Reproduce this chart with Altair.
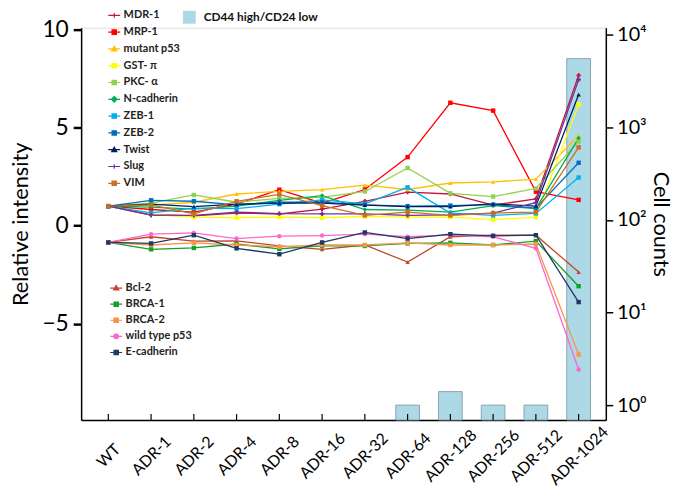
import altair as alt
import pandas as pd

categories = ["WT", "ADR-1", "ADR-2", "ADR-4", "ADR-8", "ADR-16", "ADR-32",
              "ADR-64", "ADR-128", "ADR-256", "ADR-512", "ADR-1024"]

# Upper group (relative intensity)
upper_names = ["MDR-1", "MRP-1", "mutant p53", "GST- π", "PKC- α", "N-cadherin",
               "ZEB-1", "ZEB-2", "Twist", "Slug", "VIM"]
upper_colors = ["#C0183C", "#FF0000", "#FFC000", "#FFFF00", "#92D050", "#00B050",
                "#00B0F0", "#0070C0", "#002060", "#7030A0", "#CC6E22"]
upper_shapes = ["cross", "square", "triangle-up", "square", "square", "diamond",
                "square", "square", "triangle-up", "cross", "square"]

mdr1 = [1.0, 0.55, 0.5, 0.65, 0.6, 0.85, 1.25, 1.72, 1.62, 1.05, 1.37, 7.67]
mrp1 = [1.0, 0.83, 0.7, 1.1, 1.84, 1.15, 1.85, 3.5, 6.27, 5.87, 1.74, 1.32]
mutant_p53 = [1.0, 1.05, 1.2, 1.62, 1.75, 1.84, 2.07, 1.85, 2.18, 2.24, 2.38, 4.6]
gst_pi = [1.0, 0.6, 0.44, 0.41, 0.44, 0.41, 0.48, 0.44, 0.44, 0.31, 0.44, 6.19]
pkc_alpha = [1.0, 1.15, 1.57, 1.2, 1.4, 1.45, 1.75, 2.95, 1.65, 1.49, 1.9, 4.3]
n_cadherin = [1.0, 0.95, 0.85, 1.0, 1.3, 1.54, 0.83, 0.8, 0.7, 1.03, 0.88, 4.47]
zeb1 = [1.0, 0.66, 0.9, 0.87, 1.1, 1.32, 1.12, 1.96, 0.65, 0.53, 0.63, 2.46]
zeb2 = [1.0, 1.3, 1.25, 1.07, 1.2, 1.2, 1.07, 1.0, 1.03, 1.08, 0.9, 3.21]
twist = [1.0, 1.1, 0.98, 1.1, 1.15, 1.15, 1.05, 0.98, 0.98, 1.12, 1.0, 6.69]
slug = [1.0, 0.55, 0.53, 0.7, 0.62, 0.61, 0.61, 0.53, 0.56, 0.65, 1.18, 7.45]
vim = [1.0, 1.07, 0.61, 1.25, 1.6, 1.03, 0.53, 0.7, 0.53, 0.65, 0.7, 4.0]
upper_values = [mdr1, mrp1, mutant_p53, gst_pi, pkc_alpha, n_cadherin,
                zeb1, zeb2, twist, slug, vim]

# Lower group
lower_names = ["Bcl-2", "BRCA-1", "BRCA-2", "wild type p53", "E-cadherin"]
lower_colors = ["#C0462A", "#12A02A", "#F79646", "#FF66CC", "#1F3864"]
lower_shapes = ["triangle-up", "square", "square", "circle", "square"]

bcl2 = [-0.85, -0.56, -0.78, -0.77, -1.03, -1.2, -0.98, -1.85, -0.56, -0.48, -0.48, -2.36]
brca1 = [-0.85, -1.2, -1.13, -0.93, -1.18, -1.03, -1.03, -0.9, -0.87, -0.98, -0.78, -3.08]
brca2 = [-0.85, -0.98, -0.87, -0.98, -1.07, -0.98, -0.98, -0.87, -0.98, -0.98, -0.93, -6.57]
wt_p53 = [-0.85, -0.43, -0.36, -0.65, -0.53, -0.5, -0.43, -0.56, -0.48, -0.56, -1.15, -7.33]
e_cadherin = [-0.85, -0.9, -0.48, -1.15, -1.45, -0.85, -0.34, -0.65, -0.43, -0.51, -0.48, -3.89]
lower_values = [bcl2, brca1, brca2, wt_p53, e_cadherin]

# Cell counts (bars, right log axis)
bar_categories = ["ADR-64", "ADR-128", "ADR-256", "ADR-512", "ADR-1024"]
cell_counts = [1, 1.4, 1, 1, 5500]
bar_label = "CD44 high/CD24 low"

# legend symbol paths (line sample + marker)
LINE = "M-1.5,0H1.5"
MARK = {
    "square": "M-0.55,-0.55H0.55V0.55H-0.55Z",
    "triangle-up": "M0,-0.65L0.65,0.5H-0.65Z",
    "diamond": "M0,-0.7L0.7,0L0,0.7L-0.7,0Z",
    "circle": "M-0.6,0A0.6,0.6,0,1,1,0.6,0A0.6,0.6,0,1,1,-0.6,0Z",
    "cross": "M-0.6,0H0.6M0,-0.6V0.6",
}


def long_df(names, values):
    rows = []
    for n, vals in zip(names, values):
        for c, v in zip(categories, vals):
            rows.append({"series": n, "cat": c, "value": v})
    return pd.DataFrame(rows)


upper_df = long_df(upper_names, upper_values)
lower_df = long_df(lower_names, lower_values)
bar_df = pd.DataFrame({"cat": bar_categories, "count": cell_counts,
                       "label": [bar_label] * len(bar_categories)})
cat_df = pd.DataFrame({"cat": categories})

FONT = "Lato"
Y_DOMAIN = [-9.9, 10.1]
LOG_DOMAIN = [0.692, 11880]

x_axis = alt.Axis(title=None, labelAngle=-45, labelAlign="center", labelBaseline="middle",
                  labelFont=FONT, labelFontSize=16, labelColor="black", labelPadding=36,
                  ticks=False, tickSize=0, domainColor="black", domainWidth=1.5, grid=False)
x_enc = alt.X("cat:N", sort=categories,
              scale=alt.Scale(type="point", domain=categories, padding=0.636),
              axis=x_axis)

left_axis = alt.Axis(orient="left", values=[-5, 0, 5, 10], title="Relative intensity",
                     titleFont=FONT, titleFontSize=22, titleFontWeight="normal",
                     titleColor="black", titlePadding=10,
                     labelFont=FONT, labelFontSize=23, labelColor="black", labelPadding=5,
                     tickSize=8, tickWidth=2.5, tickColor="black",
                     domainColor="black", domainWidth=1.5, grid=False)
right_axis = alt.Axis(orient="right", values=[1, 10, 100, 1000, 10000],
                      labelExpr="'10' + ['⁰','¹','²','³','⁴'][round(log(datum.value)/LN10)]",
                      title="Cell counts", titleFont=FONT, titleFontSize=22,
                      titleFontWeight="normal", titleColor="black", titlePadding=2,
                      labelFont=FONT, labelFontSize=20, labelColor="black", labelPadding=4,
                      tickSize=7, tickWidth=1.5, tickColor="black",
                      domainColor="black", domainWidth=1.5, grid=False)

bars = alt.Chart(bar_df).mark_bar(size=24, stroke="#8AA4AE", strokeWidth=1).encode(
    x=x_enc,
    y=alt.Y("count:Q", scale=alt.Scale(type="log", domain=LOG_DOMAIN, nice=False),
            axis=right_axis),
    y2=alt.datum(LOG_DOMAIN[0]),
    fill=alt.Fill("label:N", scale=alt.Scale(domain=[bar_label], range=["#ADD8E6"]),
                  legend=alt.Legend(orient="none", legendX=103, legendY=-17, title=None,
                                    symbolType="square", symbolSize=169,
                                    symbolStrokeWidth=0, labelFont=FONT,
                                    labelFontSize=12, labelFontWeight="bold",
                                    labelColor="#111111",
                                    labelOffset=8, padding=0)),
)


def y_lin(axis=None):
    return alt.Y("value:Q", scale=alt.Scale(domain=Y_DOMAIN, nice=False, zero=False),
                 axis=axis)


def group_layers(df, names, colors, shapes, axis):
    cscale = alt.Scale(domain=names, range=colors)
    lines = alt.Chart(df).mark_line(strokeWidth=1.3).encode(
        x=x_enc, y=y_lin(axis),
        color=alt.Color("series:N", scale=cscale, legend=None),
    )
    pts = alt.Chart(df).mark_point(filled=True, size=20, opacity=1).encode(
        x=x_enc, y=y_lin(None),
        color=alt.Color("series:N", scale=cscale, legend=None),
        shape=alt.Shape("series:N", scale=alt.Scale(domain=names, range=shapes), legend=None),
    )
    return lines, pts


def legend_layer(names, colors, shapes, lx, ly, rowpad):
    leg = alt.Legend(orient="none", legendX=lx, legendY=ly, title=None,
                     labelFont=FONT, labelFontSize=11, labelFontWeight="bold",
                     labelColor="#222222", symbolSize=64, symbolStrokeWidth=1.2,
                     rowPadding=rowpad, labelOffset=4, padding=0)
    cscale = alt.Scale(domain=names, range=colors)
    paths = [LINE + MARK[s] for s in shapes]
    return alt.Chart(pd.DataFrame({"series": names})).transform_filter("false").mark_point(
        filled=True, strokeWidth=1.2, opacity=1
    ).encode(
        fill=alt.Fill("series:N", scale=cscale, legend=leg),
        stroke=alt.Stroke("series:N", scale=cscale, legend=leg),
        shape=alt.Shape("series:N", scale=alt.Scale(domain=names, range=paths), legend=leg),
    )


up_lines, up_pts = group_layers(upper_df, upper_names, upper_colors, upper_shapes, left_axis)
lo_lines, lo_pts = group_layers(lower_df, lower_names, lower_colors, lower_shapes, None)

ticks = alt.Chart(cat_df).mark_rule(color="black", strokeWidth=1.2).encode(
    x=x_enc,
    y=alt.Y("y:Q", scale=alt.Scale(domain=Y_DOMAIN, nice=False, zero=False), axis=None),
    y2=alt.datum(Y_DOMAIN[0] + 0.3),
).transform_calculate(y=str(Y_DOMAIN[0]))

leg_up = legend_layer(upper_names, upper_colors, upper_shapes, 28, -18, 5)
leg_lo = legend_layer(lower_names, lower_colors, lower_shapes, 30, 258, 4.3)

chart = alt.layer(
    bars, up_lines, lo_lines, up_pts, lo_pts, ticks, leg_up, leg_lo
).resolve_scale(
    y="independent", color="independent", shape="independent",
    fill="independent", stroke="independent"
).properties(
    width=531, height=397,
    autosize=alt.AutoSizeParams(type="none"),
    padding={"left": 74, "top": 17, "right": 70, "bottom": 70},
).configure_view(stroke=None).configure(background="white")

chart.save("out.html", embed_options={"renderer": "svg", "actions": False})
